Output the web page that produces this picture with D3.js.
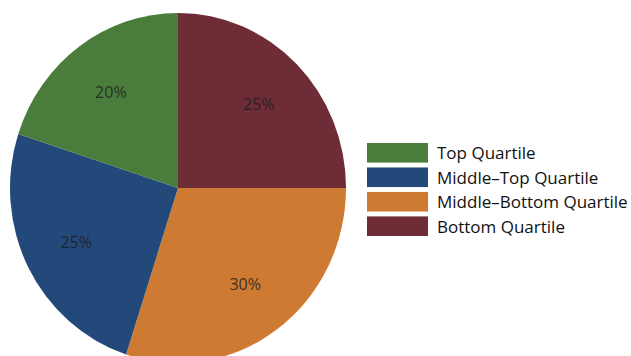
<!DOCTYPE html>
<html>
<head>
<meta charset="utf-8">
<script src="https://cdn.jsdelivr.net/npm/d3@7"></script>
<style>
  html, body { margin: 0; padding: 0; background: #ffffff; }
  svg { display: block; }
</style>
</head>
<body>
<svg id="chart" width="631" height="356"></svg>
<script>
// Share of each quartile, drawn clockwise from 12 o'clock
const categories = ["Bottom Quartile", "Middle–Bottom Quartile", "Middle–Top Quartile", "Top Quartile"];
const values = [25, 30, 25, 20];
const colors = ["#6d2c36", "#cf7a33", "#22497a", "#4a7d3c"];
// Legend lists the quartiles top-down
const legendOrder = ["Top Quartile", "Middle–Top Quartile", "Middle–Bottom Quartile", "Bottom Quartile"];

const svg = d3.select("#chart");
const cx = 178, cy = 188, r = 168, yStretch = 175 / 168;

const data = categories.map((c, i) => ({ category: c, value: values[i], color: colors[i] }));
const pie = d3.pie().value(d => d.value).sort(null);
const arcs = pie(data);
const arc = d3.arc().innerRadius(0).outerRadius(r);
const labelArc = d3.arc().innerRadius(0).outerRadius(r * 1.36);

const pieG = svg.append("g")
  .attr("transform", `translate(${cx},${cy}) scale(1,${yStretch})`);

pieG.selectAll("path")
  .data(arcs)
  .join("path")
  .attr("d", arc)
  .attr("fill", d => d.data.color);

// Percentage labels, placed outside the stretched group so text is not distorted
svg.append("g")
  .selectAll("text")
  .data(arcs)
  .join("text")
  .attr("x", d => cx + labelArc.centroid(d)[0])
  .attr("y", d => cy + labelArc.centroid(d)[1] * yStretch)
  .attr("text-anchor", "middle")
  .attr("dominant-baseline", "central")
  .attr("font-family", "'Open Sans', sans-serif")
  .attr("font-size", 16)
  .attr("fill", "#1e1e1e")
  .attr("fill-opacity", 0.85)
  .text(d => d.data.value + "%");

// Legend
const colorOf = d3.scaleOrdinal().domain(categories).range(colors);
const legendY = d3.scaleBand().domain(legendOrder).range([143, 236]).paddingInner(0.2);

const legend = svg.append("g");
const rows = legend.selectAll("g")
  .data(legendOrder)
  .join("g")
  .attr("transform", d => `translate(0,${legendY(d)})`);

rows.append("rect")
  .attr("x", 367)
  .attr("y", 0)
  .attr("width", 61)
  .attr("height", legendY.bandwidth())
  .attr("fill", d => colorOf(d));

rows.append("text")
  .attr("x", 437)
  .attr("y", legendY.bandwidth() / 2)
  .attr("dominant-baseline", "central")
  .attr("font-family", "'Open Sans', sans-serif")
  .attr("font-size", 17)
  .attr("fill", "#111111")
  .text(d => d);
</script>
</body>
</html>
